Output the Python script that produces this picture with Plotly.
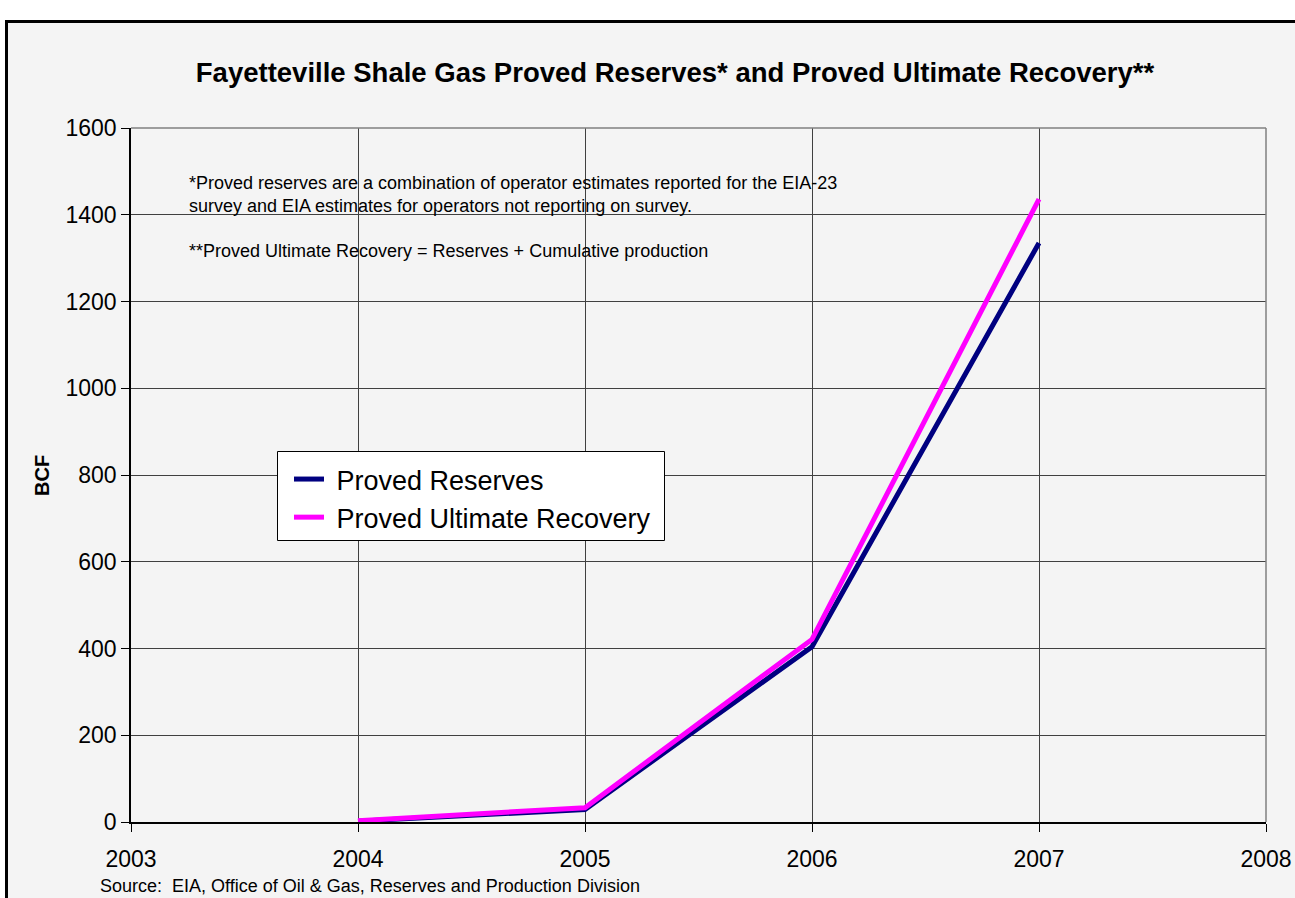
import plotly.graph_objects as go

years = [2004, 2005, 2006, 2007]
proved_reserves = [2, 29, 404, 1335]
proved_ultimate_recovery = [3, 33, 421, 1436]

W, H = 1295, 898
L, R, T, B = 131, 29, 128, 76
pw, ph = W - L - R, H - T - B

def px(x):
    return (x - L) / pw

def py(y):
    return (H - B - y) / ph

fig = go.Figure()
fig.add_trace(go.Scatter(x=years, y=proved_reserves, mode="lines", name="\u00a0Proved Reserves",
                         line=dict(color="#000080", width=5)))
fig.add_trace(go.Scatter(x=years, y=proved_ultimate_recovery, mode="lines", name="\u00a0Proved Ultimate Recovery",
                         line=dict(color="#ff00ff", width=5)))

FONT = "Arial, Liberation Sans, sans-serif"

fig.update_layout(
    width=W, height=H,
    margin=dict(l=L, r=R, t=T, b=B, autoexpand=False),
    paper_bgcolor="white",
    plot_bgcolor="#f4f4f4",
    font=dict(family=FONT, color="black"),
    title=dict(text="<b>Fayetteville Shale Gas Proved Reserves* and Proved Ultimate Recovery**</b>",
               x=675 / W, xanchor="center", y=1 - 72 / H, yanchor="middle",
               font=dict(size=27.5, color="black")),
    xaxis=dict(range=[2003, 2008], dtick=1, tick0=2003, showgrid=True, gridcolor="#404040", gridwidth=1,
               showline=True, linecolor="black", linewidth=1.5, ticks="outside", ticklen=8,
               tickcolor="black", tickfont=dict(size=23), zeroline=False, ticklabelstandoff=8,
               automargin=False),
    yaxis=dict(range=[0, 1600], dtick=200, showgrid=True, gridcolor="#404040", gridwidth=1,
               showline=True, linecolor="black", linewidth=1.5, ticks="outside", ticklen=8,
               tickcolor="black", tickfont=dict(size=23), zeroline=False, automargin=False),
    showlegend=True,
    legend=dict(x=px(289), y=py(455), xanchor="left", yanchor="top",
                bgcolor="rgba(0,0,0,0)", borderwidth=0,
                font=dict(size=27), tracegroupgap=4),
    shapes=[
        dict(type="rect", xref="paper", yref="paper", x0=px(6.5), x1=px(1310), y0=py(21.5), y1=py(910),
             line=dict(color="black", width=3), fillcolor="#f4f4f4", layer="below"),
        dict(type="line", xref="paper", yref="paper", x0=0, x1=1, y0=1, y1=1,
             line=dict(color="#808080", width=1.5), layer="above"),
        dict(type="line", xref="paper", yref="paper", x0=1, x1=1, y0=0, y1=1,
             line=dict(color="#808080", width=1.5), layer="above"),
        dict(type="rect", xref="paper", yref="paper", x0=px(277.5), x1=px(664.5), y0=py(451.5), y1=py(540.5),
             line=dict(color="black", width=1), fillcolor="white", layer="above"),
    ],
    annotations=[
        dict(text="<b>BCF</b>", xref="paper", yref="paper", x=px(42), y=py(476),
             xanchor="center", yanchor="middle", textangle=-90, showarrow=False,
             font=dict(size=20)),
        dict(text="*Proved reserves are a combination of operator estimates reported for the EIA-23<br>survey and EIA estimates for operators not reporting on survey.",
             xref="paper", yref="paper", x=px(187), y=py(171), xanchor="left", yanchor="top",
             align="left", showarrow=False, font=dict(size=18)),
        dict(text="**Proved Ultimate Recovery = Reserves + Cumulative production",
             xref="paper", yref="paper", x=px(187), y=py(251), xanchor="left", yanchor="middle",
             align="left", showarrow=False, font=dict(size=18)),
        dict(text="Source:  EIA, Office of Oil & Gas, Reserves and Production Division",
             xref="paper", yref="paper", x=px(98), y=py(886), xanchor="left", yanchor="middle",
             align="left", showarrow=False, font=dict(size=18)),
    ],
)

fig.write_html("out.html", config={"displayModeBar": False})
with open("out.html", encoding="utf-8") as f:
    html = f.read()
html = html.replace("<body>", '<body style="margin:0;padding:0;overflow:hidden">', 1)
with open("out.html", "w", encoding="utf-8") as f:
    f.write(html)
